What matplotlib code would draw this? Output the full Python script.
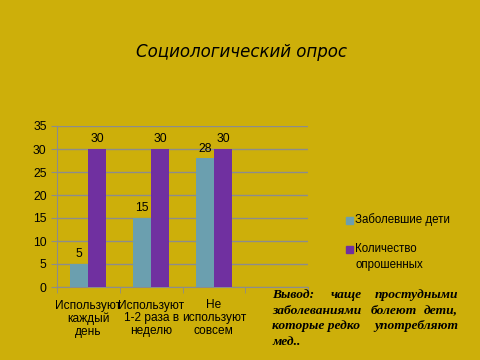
import matplotlib
matplotlib.use("Agg")
import matplotlib.pyplot as plt
import matplotlib.patches as mpatches
import numpy as np

categories = ["Используют\nкаждый\nдень", "Используют\n1-2 раза в\nнеделю", "Не\nиспользуют\nсовсем", ""]
sick = [5, 15, 28]
surveyed = [30, 30, 30]
series_names = ["Заболевшие дети", "Количество\nопрошенных"]
yticks = [0, 5, 10, 15, 20, 25, 30, 35]

bg = "#CDAF0A"
c1 = "#6B9FAF"
c2 = "#7030A0"
grid = "#8C8C8C"
sans = "Liberation Sans"

fig = plt.figure(figsize=(4.8, 3.6), dpi=100, facecolor=bg)
ax = fig.add_axes([57/480, 1-287/360, (308-57)/480, (287-126)/360], facecolor=bg)

n = len(categories)
x = np.arange(len(sick))
w = 18/62.75
b1 = ax.bar(x - w/2, sick, w, color=c1, label=series_names[0], zorder=3)
b2 = ax.bar(x + w/2, surveyed, w, color=c2, label=series_names[1], zorder=3)
for bars, vals in ((b1, sick), (b2, surveyed)):
    for r, v in zip(bars, vals):
        ax.text(r.get_x() + r.get_width()/2, v + 0.8, str(v), ha="center", va="bottom",
                fontsize=8.7, color="black", family=sans)

ax.set_xlim(-0.5, n - 0.5)
ax.set_ylim(0, 35)
ax.set_yticks(yticks)
ax.yaxis.grid(True, color=grid, linewidth=1, zorder=0)
ax.set_axisbelow(True)
for s in ["top", "right"]:
    ax.spines[s].set_visible(False)
for s in ["left", "bottom"]:
    ax.spines[s].set_color(grid)
ax.set_xticks(np.arange(n))
ax.set_xticklabels(categories, fontsize=8.6, linespacing=1.1, family=sans)
ax.set_xticks(np.arange(n + 1) - 0.5, minor=True)
ax.tick_params(axis="x", which="major", length=0, pad=9)
ax.tick_params(axis="x", which="minor", length=4, color=grid)
ax.tick_params(axis="y", length=4, color=grid, labelsize=8.7)
for t in ax.get_yticklabels():
    t.set_family(sans)

fig.text(241/480, 1-52/360, "Социологический опрос", ha="center", va="center",
         fontsize=12, style="italic", family="DejaVu Sans")

# manual legend (marker aligned with first line of each label)
leg_colors = [c1, c2]
leg_y = [220, 249]
for col, ly, name in zip(leg_colors, leg_y, series_names):
    fig.patches.append(mpatches.Rectangle((346/480, 1-(ly+3.5)/360), 7/480, 7/360,
                                          color=col, transform=fig.transFigure, figure=fig))
    fig.text(355/480, 1-(ly-6.5)/360, name, ha="left", va="top", fontsize=8.3,
             family=sans, linespacing=1.45)

fs = 9.7
y0 = 295
dy = 15.7
sf = dict(fontsize=fs, family="Liberation Serif", weight="bold", style="italic", va="center")
fig.text(272/480, 1-y0/360, "Вывод:", **sf)
fig.text(346/480, 1-y0/360, "чаще", ha="center", **sf)
fig.text(458/480, 1-y0/360, "простудными", ha="right", **sf)
fig.text(272/480, 1-(y0+dy)/360, "заболеваниями", **sf)
fig.text(393.5/480, 1-(y0+dy)/360, "болеют", ha="center", **sf)
fig.text(458/480, 1-(y0+dy)/360, "дети,", ha="right", **sf)
fig.text(272/480, 1-(y0+2*dy)/360, "которые редко", **sf)
fig.text(458/480, 1-(y0+2*dy)/360, "употребляют", ha="right", **sf)
fig.text(272/480, 1-(y0+3*dy)/360, "мед..", **sf)

fig.savefig("out.png", dpi=100, facecolor=bg)
